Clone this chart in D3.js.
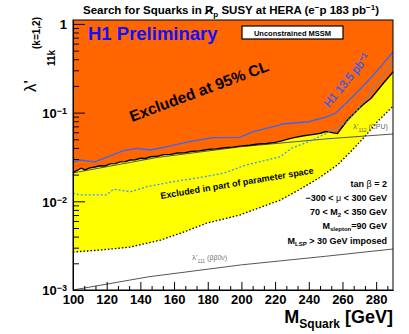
<!DOCTYPE html>
<html>
<head>
<meta charset="utf-8">
<script src="https://cdn.jsdelivr.net/npm/d3@7"></script>
<style>
  body { margin: 0; background: #fff; }
  text { font-family: "Liberation Sans", Arial, sans-serif; }
</style>
</head>
<body>
<svg id="chart" width="409" height="334"></svg>
<script>
'use strict';

// 95% CL exclusion limit (upper edge of the yellow band)
const limitMass = [100, 103, 105, 107, 110, 113, 116, 119, 122, 125, 128, 131, 134, 137, 140, 143, 146, 150, 154, 158, 162, 166, 170, 175, 180, 185, 190, 195, 200, 205, 210, 215, 220, 224, 228, 232, 237, 242, 247, 250, 253, 257, 260, 263, 267, 272, 277, 281, 285, 289, 290];
const limitLambda = [0.0210, 0.0226, 0.0236, 0.0226, 0.0238, 0.0244, 0.0252, 0.0250, 0.0264, 0.0266, 0.0278, 0.0280, 0.0292, 0.0294, 0.0306, 0.0304, 0.0318, 0.0322, 0.0336, 0.0338, 0.0350, 0.0352, 0.0364, 0.0370, 0.0384, 0.0390, 0.0402, 0.0408, 0.0422, 0.0428, 0.0442, 0.0448, 0.0462, 0.0480, 0.0505, 0.0525, 0.0548, 0.0565, 0.0585, 0.0612, 0.0598, 0.0580, 0.0693, 0.0826, 0.0982, 0.122, 0.145, 0.180, 0.223, 0.272, 0.290];

// lower edge of the "excluded in part of parameter space" band
const partMass = [100, 116, 134, 152, 166, 179, 199, 215, 223, 234, 246, 257, 265, 273, 281, 290];
const partLambda = [0.00268, 0.00282, 0.00305, 0.00366, 0.00451, 0.00565, 0.0070, 0.00908, 0.0103, 0.0134, 0.0183, 0.0257, 0.0365, 0.0530, 0.0800, 0.118];

// earlier H1 result, 13.5 pb-1 (solid blue)
const h1Mass = [100, 104, 113, 130, 138, 146, 156, 169, 183, 199, 207, 223, 224, 240, 251, 256, 264, 274, 282, 290];
const h1Lambda = [0.0277, 0.0292, 0.0279, 0.0372, 0.0396, 0.0379, 0.0413, 0.0470, 0.0521, 0.0527, 0.0609, 0.0725, 0.0744, 0.0789, 0.0899, 0.0989, 0.139, 0.216, 0.318, 0.482];

// dotted blue curve inside the band
const dotMass = [100, 104, 120, 124, 134, 144, 159, 173, 189, 203, 215, 223, 230, 240, 251, 262, 270, 276, 282, 288, 290];
const dotLambda = [0.0124, 0.0118, 0.0118, 0.0137, 0.0128, 0.0146, 0.0166, 0.0182, 0.0207, 0.0257, 0.0292, 0.0318, 0.0399, 0.0470, 0.0589, 0.0763, 0.113, 0.166, 0.233, 0.327, 0.424];

// indirect bounds
const cpuMass = [100, 150, 200, 250, 290];
const cpuLambda = [0.0209, 0.0312, 0.0413, 0.0505, 0.0574];
const bbMass = [100, 145, 200, 250, 290];
const bbLambda = [0.00100, 0.00141, 0.00192, 0.00240, 0.00290];

const xTicks = [100, 120, 140, 160, 180, 200, 220, 240, 260, 280];
const yTicks = [0.001, 0.01, 0.1, 1];

const frame = { left: 73, right: 393, top: 20, bottom: 290 };

const svg = d3.select("#chart");

const x = d3.scaleLinear().domain([100, 290]).range([frame.left, frame.right]);
const y = d3.scaleLog().domain([0.001, 1.107]).range([frame.bottom, frame.top]);

const zip = (ms, ls) => ms.map((m, i) => [m, ls[i]]);
const limit = zip(limitMass, limitLambda);
const part = zip(partMass, partLambda);

const line = d3.line().x(d => x(d[0])).y(d => y(d[1]));

// orange: everything above the limit curve
const orangeArea = d3.area()
    .x(d => x(d[0]))
    .y0(frame.top)
    .y1(d => y(d[1]));

svg.append("path")
    .datum(limit)
    .attr("d", orangeArea)
    .attr("fill", "#ff6600");

// yellow band between the limit and the lower dotted curve
const bandPath = line(limit) + "L" + line(part.slice().reverse()).slice(1) + "Z";
svg.append("path")
    .attr("d", bandPath)
    .attr("fill", "#ffff00");

// dotted lower edge
svg.append("path")
    .datum(part)
    .attr("d", line)
    .attr("fill", "none")
    .attr("stroke", "#000")
    .attr("stroke-width", 1.3)
    .attr("stroke-dasharray", "1.5,2");

// indirect bounds
svg.append("path")
    .datum(zip(cpuMass, cpuLambda))
    .attr("d", line)
    .attr("fill", "none")
    .attr("stroke", "#555")
    .attr("stroke-width", 1);

svg.append("path")
    .datum(zip(bbMass, bbLambda))
    .attr("d", line)
    .attr("fill", "none")
    .attr("stroke", "#555")
    .attr("stroke-width", 1);

// limit curve
svg.append("path")
    .datum(limit)
    .attr("d", line)
    .attr("fill", "none")
    .attr("stroke", "#000")
    .attr("stroke-width", 1.4);

// blue dotted
svg.append("path")
    .datum(zip(dotMass, dotLambda))
    .attr("d", line)
    .attr("fill", "none")
    .attr("stroke", "#3399ff")
    .attr("stroke-width", 1.3)
    .attr("stroke-dasharray", "2,2");

// H1 13.5 pb-1
svg.append("path")
    .datum(zip(h1Mass, h1Lambda))
    .attr("d", line)
    .attr("fill", "none")
    .attr("stroke", "#3366ff")
    .attr("stroke-width", 1.3);

// axes: major and minor ticks pointing into the frame
const xMinor = d3.range(0, 29).map(i => 100 + i * 20 / 3).filter((v, i) => i % 3 !== 0 && v <= 290);
svg.append("g")
    .attr("transform", `translate(0,${frame.bottom})`)
    .call(d3.axisBottom(x).tickValues(xMinor).tickSize(-4).tickFormat(""))
    .call(g => g.select(".domain").remove());

const xAxis = svg.append("g")
    .attr("transform", `translate(0,${frame.bottom})`)
    .call(d3.axisBottom(x).tickValues(xTicks).tickSize(-8).tickSizeOuter(0));
xAxis.selectAll("text")
    .attr("y", 5)
    .attr("dy", "0.71em")
    .attr("font-size", 13)
    .attr("font-weight", "bold")
    .attr("fill", "#000");

const yMinor = [];
[0.001, 0.01, 0.1].forEach(d => { for (let k = 2; k <= 9; k++) yMinor.push(d * k); });
svg.append("g")
    .attr("transform", `translate(${frame.left},0)`)
    .call(d3.axisLeft(y).tickValues(yMinor).tickSize(-6).tickFormat(""))
    .call(g => g.select(".domain").remove());

const yAxis = svg.append("g")
    .attr("transform", `translate(${frame.left},0)`)
    .call(d3.axisLeft(y).tickValues(yTicks).tickSize(-12).tickSizeOuter(0).tickFormat(""));
svg.selectAll(".tick line").attr("stroke", "#000");

yAxis.selectAll(".tick").each(function(d) {
  const t = d3.select(this).append("text")
      .attr("x", -6)
      .attr("dy", "0.38em")
      .attr("text-anchor", "end")
      .attr("font-size", 13)
      .attr("font-weight", "bold")
      .attr("fill", "#000");
  if (d === 1) {
    t.text("1");
  } else {
    t.text("10");
    t.append("tspan").attr("dy", "-0.45em").attr("font-size", 9).text("\u2212" + Math.round(-Math.log10(d)));
  }
});

// frame
svg.append("rect")
    .attr("x", frame.left).attr("y", frame.top)
    .attr("width", frame.right - frame.left).attr("height", frame.bottom - frame.top)
    .attr("fill", "none")
    .attr("stroke", "#000")
    .attr("stroke-width", 1);

// title
const title = svg.append("text")
    .attr("x", 231).attr("y", 14)
    .attr("text-anchor", "middle")
    .attr("font-size", 11.5)
    .attr("font-weight", "bold");
title.append("tspan").text("Search for Squarks in R");
title.append("tspan").attr("dy", 3).attr("font-size", 8).text("p");
title.append("tspan").attr("dy", -3).text(" SUSY at HERA (e");
title.append("tspan").attr("dy", -4).attr("font-size", 8).text("\u2212");
title.append("tspan").attr("dy", 4).text("p 183 pb");
title.append("tspan").attr("dy", -4).attr("font-size", 8).text("\u22121");
title.append("tspan").attr("dy", 4).text(")");
const rBox = title.node().getExtentOfChar(22);
svg.append("line")
    .attr("x1", rBox.x).attr("y1", rBox.y + rBox.height - 2)
    .attr("x2", rBox.x + rBox.width).attr("y2", rBox.y + 3)
    .attr("stroke", "#000").attr("stroke-width", 1.2);

// y axis title
svg.append("text")
    .attr("transform", "translate(36,92) rotate(-90)")
    .attr("font-size", 17)
    .text("\u03bb'");
svg.append("text")
    .attr("transform", "translate(55,66) rotate(-90)")
    .attr("font-size", 10)
    .attr("font-weight", "bold")
    .text("11k");
svg.append("text")
    .attr("transform", "translate(40,49) rotate(-90)")
    .attr("font-size", 10)
    .attr("font-weight", "bold")
    .text("(k=1,2)");

// x axis title
const xTitle = svg.append("text")
    .attr("x", frame.right).attr("y", 323)
    .attr("text-anchor", "end")
    .attr("font-size", 18)
    .attr("font-weight", "bold");
xTitle.append("tspan").text("M");
xTitle.append("tspan").attr("dy", 5).attr("font-size", 12).text("Squark");
xTitle.append("tspan").attr("dy", -5).text(" [GeV]");

// labels inside the plot
svg.append("text")
    .attr("x", 88).attr("y", 40)
    .attr("font-size", 18.5)
    .attr("font-weight", "bold")
    .attr("fill", "#1010ff")
    .text("H1 Preliminary");

svg.append("rect")
    .attr("x", 242).attr("y", 26)
    .attr("width", 101).attr("height", 13)
    .attr("fill", "#fff")
    .attr("stroke", "#000")
    .attr("stroke-width", 1.2);
svg.append("text")
    .attr("x", 292.5).attr("y", 35.5)
    .attr("text-anchor", "middle")
    .attr("font-size", 7.5)
    .attr("font-weight", "bold")
    .text("Unconstrained MSSM");

svg.append("text")
    .attr("transform", "translate(132,122) rotate(-20.5)")
    .attr("font-size", 15.5)
    .attr("font-weight", "bold")
    .text("Excluded at 95% CL");

svg.append("text")
    .attr("transform", "translate(161,199) rotate(-9.5)")
    .attr("font-size", 9)
    .attr("font-weight", "bold")
    .text("Excluded in part of parameter space");

const h1Label = svg.append("text")
    .attr("transform", "translate(329,108) rotate(-50.5)")
    .attr("font-size", 11.5)
    .attr("fill", "#2a5cff")
    .attr("stroke", "#2a5cff")
    .attr("stroke-width", 0.3)
    .text("H1 13.5 pb");
h1Label.append("tspan").attr("dy", -4).attr("font-size", 8).text("\u22121");

const cpuLabel = svg.append("text")
    .attr("x", 353).attr("y", 129)
    .attr("font-size", 8)
    .attr("fill", "#666");
cpuLabel.append("tspan").text("\u03bb'");
cpuLabel.append("tspan").attr("dy", 3).attr("font-size", 5).text("112");
cpuLabel.append("tspan").attr("dy", -3).attr("font-size", 7).text(" (CPU)");

const bbLabel = svg.append("text")
    .attr("x", 192).attr("y", 260)
    .attr("font-size", 8)
    .attr("fill", "#777");
bbLabel.append("tspan").text("\u03bb'");
bbLabel.append("tspan").attr("dy", 3).attr("font-size", 5).text("111");
bbLabel.append("tspan").attr("dy", -3).attr("font-size", 7).text(" (\u03b2\u03b20\u03bd)");

// parameter block
const params = svg.append("g").attr("font-size", 9).attr("font-weight", "bold").attr("text-anchor", "end");
const p1 = params.append("text").attr("x", 387).attr("y", 187);
p1.append("tspan").text("tan ");
p1.append("tspan").attr("font-weight", "normal").text("\u03b2");
p1.append("tspan").text(" = 2");
const p2 = params.append("text").attr("x", 387).attr("y", 201);
p2.append("tspan").text("\u2212300 < ");
p2.append("tspan").attr("font-weight", "normal").text("\u03bc");
p2.append("tspan").text("  < 300 GeV");
const p3 = params.append("text").attr("x", 387).attr("y", 215);
p3.append("tspan").text("70 < M");
p3.append("tspan").attr("dy", 2).attr("font-size", 6).text("2");
p3.append("tspan").attr("dy", -2).text(" < 350 GeV");
const p4 = params.append("text").attr("x", 387).attr("y", 229);
p4.append("tspan").text("M");
p4.append("tspan").attr("dy", 2).attr("font-size", 6).text("slepton");
p4.append("tspan").attr("dy", -2).text("=90 GeV");
const p5 = params.append("text").attr("x", 387).attr("y", 244);
p5.append("tspan").text("M");
p5.append("tspan").attr("dy", 2).attr("font-size", 6).text("LSP");
p5.append("tspan").attr("dy", -2).text(" > 30 GeV imposed");
</script>
</body>
</html>
